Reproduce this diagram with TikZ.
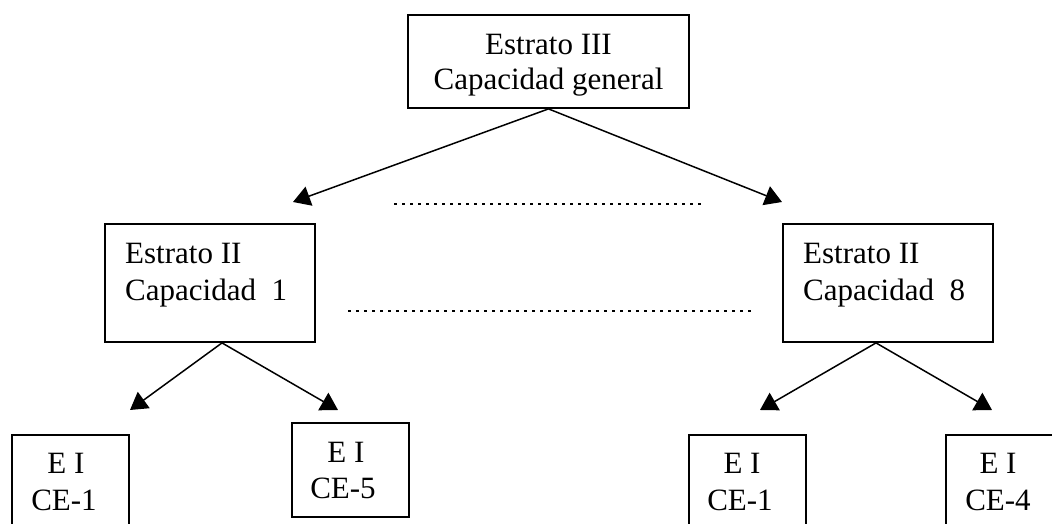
\documentclass[tikz,border=0pt]{standalone}
\usepackage{fontspec}
\setmainfont{Liberation Serif}
\usetikzlibrary{arrows.meta}
\begin{document}
\begin{tikzpicture}[x=1pt,y=-1pt,
  box/.style={draw, line width=1.8pt, inner sep=0pt, rectangle},
  txt/.style={inner sep=0pt, font=\fontsize{31}{37}\selectfont},
  link/.style={line width=1.5pt, -{Triangle[length=17pt,width=20pt]}},
  dots/.style={line width=2.6pt, dash pattern=on 2.6pt off 5.4pt}]
\useasboundingbox (0,0) rectangle (1052,524);
\clip (0,0) rectangle (1052,524);

% stratum III
\node[box, minimum width=281, minimum height=93] (top) at (548.5,61.5) {};
\node[txt, anchor=base] (topA) at (548.5,55) {Estrato III};
\node[txt, anchor=base] (topB) at (548.5,90) {Capacidad general};

% stratum II
\node[box, minimum width=210, minimum height=118] (midL) at (210,283) {};
\node[txt, anchor=base west] (midLA) at (125,263) {Estrato II};
\node[txt, anchor=base west] (midLB) at (125,300) {Capacidad\ \ 1};

\node[box, minimum width=210, minimum height=118] (midR) at (888,283) {};
\node[txt, anchor=base west] (midRA) at (803,263) {Estrato II};
\node[txt, anchor=base west] (midRB) at (803,300) {Capacidad\ \ 8};

% stratum I
\node[box, minimum width=117, minimum height=125] (b1) at (70.5,497.5) {};
\node[txt, anchor=base] (b1A) at (66,473) {E I};
\node[txt, anchor=base] (b1B) at (64,510) {CE-1};

\node[box, minimum width=117, minimum height=94] (b2) at (350.5,470) {};
\node[txt, anchor=base] (b2A) at (346,462) {E I};
\node[txt, anchor=base] (b2B) at (343,498) {CE-5};

\node[box, minimum width=117, minimum height=125] (b3) at (747.5,497.5) {};
\node[txt, anchor=base] (b3A) at (742,473) {E I};
\node[txt, anchor=base] (b3B) at (740,510) {CE-1};

\node[box, minimum width=117, minimum height=125] (b4) at (1004.5,497.5) {};
\node[txt, anchor=base] (b4A) at (998,473) {E I};
\node[txt, anchor=base] (b4B) at (998,510) {CE-4};

% arrow tips
\coordinate (tL) at (293,202);
\coordinate (tR) at (782,202);
\coordinate (lL) at (130,410);
\coordinate (lR) at (338,410);
\coordinate (rL) at (760,410);
\coordinate (rR) at (992,410);

\draw[link] (top.south) -- (tL);
\draw[link] (top.south) -- (tR);
\draw[link] ([xshift=12pt]midL.south) -- (lL);
\draw[link] ([xshift=12pt]midL.south) -- (lR);
\draw[link] ([xshift=-12pt]midR.south) -- (rL);
\draw[link] ([xshift=-12pt]midR.south) -- (rR);

% dotted separators
\coordinate (d1a) at (394,204);
\coordinate (d1b) at (701,204);
\coordinate (d2a) at (348,311);
\coordinate (d2b) at (755,311);
\draw[dots] (d1a) -- (d1b);
\draw[dots] (d2a) -- (d2b);
\end{tikzpicture}
\end{document}
